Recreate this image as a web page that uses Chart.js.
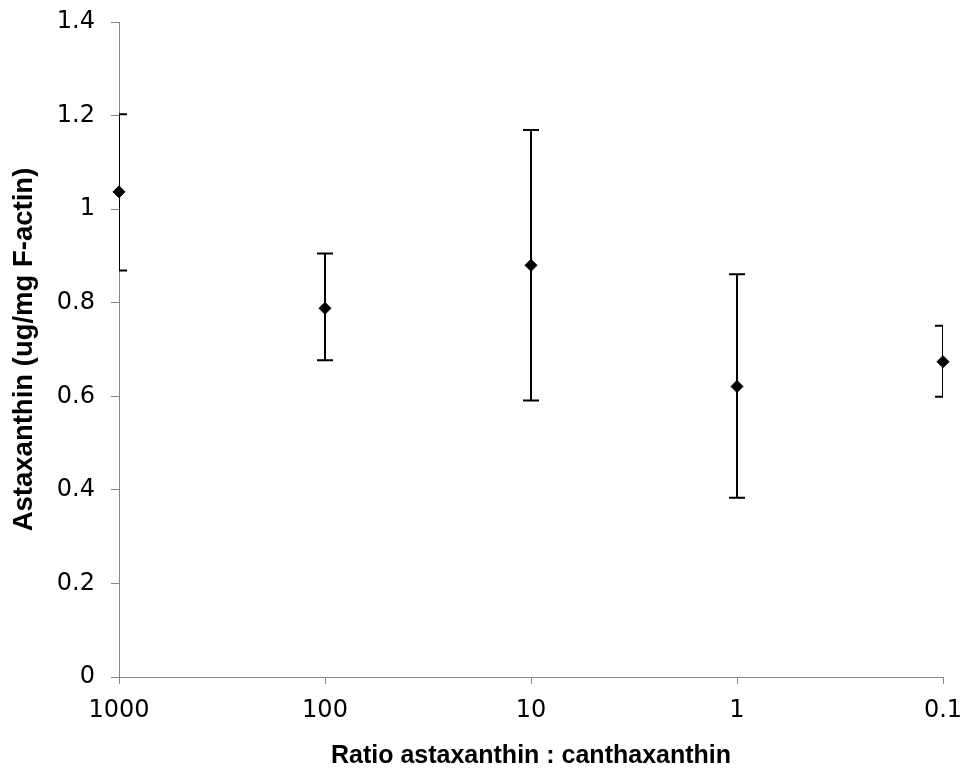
<!DOCTYPE html>
<html>
<head>
<meta charset="utf-8">
<script src="https://cdn.jsdelivr.net/npm/chart.js@4/dist/chart.umd.min.js"></script>
<style>
  html, body { margin: 0; padding: 0; background: #fff; }
  #chart { display: block; }
</style>
</head>
<body>
<canvas id="chart" width="961" height="777"></canvas>
<script>
// ratio astaxanthin : canthaxanthin
const ratios = ['1000', '100', '10', '1', '0.1'];
// mean astaxanthin (ug/mg F-actin) with error bar ends
const means = [1.037, 0.788, 0.880, 0.621, 0.674];
const upper = [1.203, 0.905, 1.169, 0.861, 0.751];
const lower = [0.869, 0.677, 0.591, 0.383, 0.599];
const yMin = 0;
const yMax = 1.4;
const yStep = 0.2;

const axisGrey = '#868686';
const font = "'DejaVu Sans'";
const titleFont = "'Liberation Sans'";

// vertical error bars, clipped to the plot area like the original
const errorBars = {
  id: 'errorBars',
  beforeDatasetsDraw(chart) {
    const ctx = chart.ctx;
    const x = chart.scales.x;
    const y = chart.scales.y;
    const area = chart.chartArea;
    const cap = 8;

    ctx.save();
    ctx.beginPath();
    ctx.rect(area.left, area.top - 2, area.right - area.left, area.bottom - area.top + 4);
    ctx.clip();
    ctx.strokeStyle = '#000';
    ctx.lineWidth = 2;

    for (let i = 0; i < ratios.length; i++) {
      let px = x.getPixelForValue(i);
      let top = y.getPixelForValue(upper[i]);
      let bottom = y.getPixelForValue(lower[i]);

      ctx.beginPath();
      ctx.moveTo(px, top);
      ctx.lineTo(px, bottom);
      ctx.moveTo(px - cap, top);
      ctx.lineTo(px + cap, top);
      ctx.moveTo(px - cap, bottom);
      ctx.lineTo(px + cap, bottom);
      ctx.stroke();
    }
    ctx.restore();
  }
};

new Chart(document.getElementById('chart').getContext('2d'), {
  type: 'line',
  data: {
    labels: ratios,
    datasets: [{
      data: means,
      showLine: false,
      pointStyle: 'rectRot',
      pointRadius: 6,
      pointHoverRadius: 6,
      pointBackgroundColor: '#000',
      pointBorderColor: '#000',
      pointBorderWidth: 1
    }]
  },
  options: {
    responsive: false,
    animation: false,
    events: [],
    layout: { padding: { top: 22, right: 18, left: 0, bottom: 0 } },
    plugins: {
      legend: { display: false },
      tooltip: { enabled: false }
    },
    scales: {
      x: {
        type: 'category',
        offset: false,
        grid: { drawOnChartArea: false, drawTicks: true, tickLength: 7, color: axisGrey },
        border: { color: axisGrey, width: 1 },
        ticks: { color: '#000', font: { family: font, size: 24 }, padding: 12, maxRotation: 0, autoSkip: false },
        title: {
          display: true,
          text: 'Ratio astaxanthin : canthaxanthin',
          color: '#000',
          font: { family: titleFont, size: 25, weight: 'bold' },
          padding: { top: 0, bottom: 6 }
        },
        afterFit(scale) {
          scale.height = 100;
          scale.paddingLeft = 0;
          scale.paddingRight = 0;
        }
      },
      y: {
        min: yMin,
        max: yMax,
        grid: { drawOnChartArea: false, drawTicks: true, tickLength: 8, color: axisGrey },
        border: { color: axisGrey, width: 1 },
        ticks: {
          stepSize: yStep,
          color: '#000',
          font: { family: font, size: 24 },
          padding: 16,
          callback: (v) => String(Number(v.toFixed(1)))
        },
        title: {
          display: true,
          text: 'Astaxanthin (ug/mg F-actin)',
          color: '#000',
          font: { family: titleFont, size: 27.5, weight: 'bold' },
          padding: { top: 8, bottom: 0 }
        },
        afterFit(scale) {
          scale.width = 119;
          scale.paddingTop = 0;
          scale.paddingBottom = 0;
        }
      }
    }
  },
  plugins: [errorBars]
});
</script>
</body>
</html>
